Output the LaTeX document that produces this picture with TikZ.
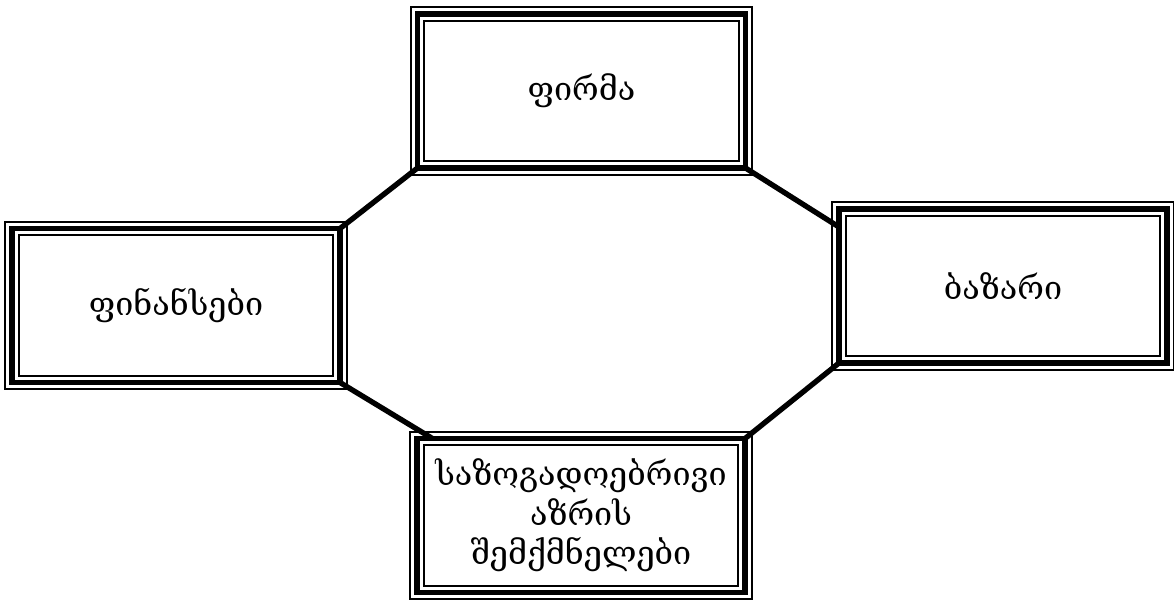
\documentclass[tikz,border=0pt]{standalone}
\usepackage{fontspec}
\newfontfamily\geofont{DejaVu Serif}
\usetikzlibrary{calc}

\begin{document}
\begin{tikzpicture}[x=0.025cm, y=-0.025cm,
  box/.style={rectangle, draw=black, line width=4pt, outer sep=0pt,
    minimum width=8.2cm, minimum height=3.85cm, align=center,
    font=\geofont\fontsize{23}{28}\selectfont},
  rim/.style={draw=black, line width=1.5pt},
  link/.style={draw=black, line width=3.8pt}]
\useasboundingbox (0,0) rectangle (1174,600);
\node[box] (firma) at (581.5,91) {ფირმა};
\node[box] (fin) at (176,305.5) {ფინანსები};
\node[box] (bazari) at (1003,286) {ბაზარი};
\node[box] (azri) at (581,515.5) {საზოგადოებრივი\\აზრის\\შემქმნელები};
\foreach \b in {firma,fin,bazari,azri}{
  \draw[rim] ([shift={(-4.8pt,4.8pt)}]\b.north west) rectangle ([shift={(4.8pt,-4.8pt)}]\b.south east);
  \draw[rim] ([shift={(4.8pt,-4.8pt)}]\b.north west) rectangle ([shift={(-4.8pt,4.8pt)}]\b.south east);
}
\draw[link] (firma.south west) -- (fin.north east);
\draw[link] (firma.south east) -- ([yshift=-12.8pt]bazari.north west);
\draw[link] (fin.south east) -- ([xshift=11pt]azri.north west);
\draw[link] (bazari.south west) -- (azri.north east);
\end{tikzpicture}
\end{document}
